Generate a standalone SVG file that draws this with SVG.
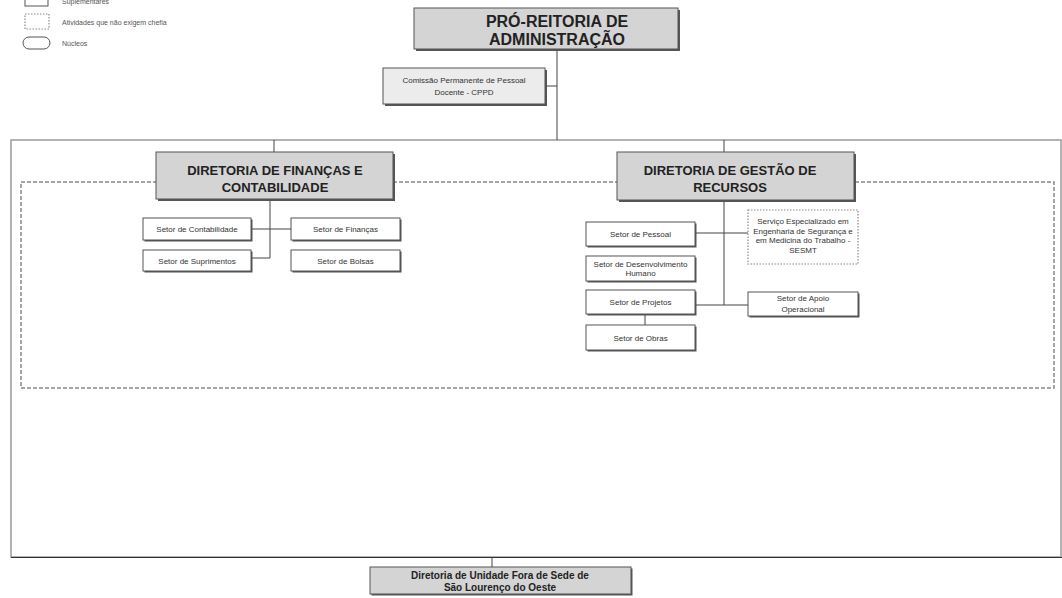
<svg xmlns="http://www.w3.org/2000/svg" width="1062" height="598" viewBox="0 0 1062 598">
<style>
text{font-family:"Liberation Sans",Arial,sans-serif;}
.t{font-size:8px;fill:#333;text-anchor:middle;}
.lg{font-size:7px;fill:#555;}
.h1{font-size:16px;font-weight:bold;fill:#222;text-anchor:middle;}
.h2{font-size:13px;font-weight:bold;fill:#222;text-anchor:middle;}
.h3{font-size:10px;font-weight:bold;fill:#222;text-anchor:middle;}
.sh{fill:#555;}
.box{fill:#fff;stroke:#555;stroke-width:1;}
.gbox{fill:#d4d4d4;stroke:#555;stroke-width:1;}
.lbox{fill:#ececec;stroke:#555;stroke-width:1;}
.dot{fill:#fff;stroke:#888;stroke-width:1.2;stroke-dasharray:1.5,1.5;}
.ln{stroke:#444;stroke-width:1;fill:none;}
</style>
<rect width="1062" height="598" fill="#fff"/>
<g id="legend">
<rect x="25" y="-6" width="23" height="12" class="box"/>
<text x="62" y="4" class="lg">Suplementares</text>
<rect x="25" y="14" width="24" height="15" class="dot"/>
<text x="62" y="25" class="lg">Atividades que não exigem chefia</text>
<rect x="23" y="37" width="27" height="12" rx="6" ry="6" class="box"/>
<text x="62" y="46" class="lg">Núcleos</text>
</g>
<g id="containers">
<rect x="11" y="140" width="1050" height="417" fill="none" stroke="#9a9a9a" stroke-width="1.5"/>
<line x1="11" y1="557.5" x2="1062" y2="557.5" stroke="#333" stroke-width="1.2"/>
<rect x="21" y="182" width="1033" height="206" fill="none" stroke="#888" stroke-width="1.5" stroke-dasharray="4,2"/>
</g>
<g id="connectors">
<line x1="557" y1="50" x2="557" y2="140" class="ln"/>
<line x1="546" y1="86" x2="557" y2="86" class="ln"/>
<line x1="274" y1="140" x2="274" y2="152" class="ln"/>
<line x1="724" y1="140" x2="724" y2="152" class="ln"/>
<line x1="270" y1="199" x2="270" y2="258" class="ln"/>
<line x1="251" y1="229" x2="291" y2="229" class="ln"/>
<line x1="251" y1="258" x2="270" y2="258" class="ln"/>
<line x1="724" y1="200" x2="724" y2="305" class="ln"/>
<line x1="695" y1="233" x2="748" y2="233" class="ln"/>
<line x1="695" y1="305" x2="748" y2="305" class="ln"/>
<line x1="645" y1="315" x2="645" y2="325" class="ln"/>
<line x1="492" y1="557" x2="492" y2="567" class="ln"/>
</g>
<g id="pro-reitoria">
<rect x="416" y="10" width="264" height="41" class="sh"/>
<rect x="414" y="8" width="264" height="41" class="gbox"/>
<text x="557" y="27" class="h1">PRÓ-REITORIA DE</text>
<text x="557" y="45" class="h1">ADMINISTRAÇÃO</text>
</g>
<g id="cppd">
<rect x="385" y="70" width="162" height="36" class="sh"/>
<rect x="383" y="68" width="162" height="36" class="lbox"/>
<text x="464" y="83" class="t">Comissão Permanente de Pessoal</text>
<text x="464" y="95" class="t">Docente - CPPD</text>
</g>
<g id="dir-financas">
<rect x="158" y="154" width="237" height="47" class="sh"/>
<rect x="156" y="152" width="237" height="47" class="gbox"/>
<text x="275" y="175" class="h2">DIRETORIA DE FINANÇAS E</text>
<text x="275" y="192" class="h2">CONTABILIDADE</text>
</g>
<g id="dir-gestao">
<rect x="619" y="154" width="237" height="48" class="sh"/>
<rect x="617" y="152" width="237" height="48" class="gbox"/>
<text x="730" y="175" class="h2">DIRETORIA DE GESTÃO DE</text>
<text x="730" y="192" class="h2">RECURSOS</text>
</g>
<g id="setor-contabilidade">
<rect x="144.5" y="219.5" width="108" height="22" class="sh"/>
<rect x="143" y="218" width="108" height="22" class="box"/>
<text x="197" y="232" class="t">Setor de Contabilidade</text>
</g>
<g id="setor-financas">
<rect x="292.5" y="219.5" width="109" height="22" class="sh"/>
<rect x="291" y="218" width="109" height="22" class="box"/>
<text x="345.5" y="232" class="t">Setor de Finanças</text>
</g>
<g id="setor-suprimentos">
<rect x="144.5" y="251.5" width="108" height="21" class="sh"/>
<rect x="143" y="250" width="108" height="21" class="box"/>
<text x="197" y="263.5" class="t">Setor de Suprimentos</text>
</g>
<g id="setor-bolsas">
<rect x="292.5" y="251.5" width="109" height="21" class="sh"/>
<rect x="291" y="250" width="109" height="21" class="box"/>
<text x="345.5" y="263.5" class="t">Setor de Bolsas</text>
</g>
<g id="setor-pessoal">
<rect x="587.5" y="223.5" width="109" height="24" class="sh"/>
<rect x="586" y="222" width="109" height="24" class="box"/>
<text x="640.5" y="237" class="t">Setor de Pessoal</text>
</g>
<g id="sesmt">
<rect x="748" y="210" width="110" height="54" class="dot"/>
<text x="803" y="224" class="t">Serviço Especializado em</text>
<text x="803" y="233.5" class="t">Engenharia de Segurança e</text>
<text x="803" y="243" class="t">em Medicina do Trabalho -</text>
<text x="803" y="252.5" class="t">SESMT</text>
</g>
<g id="setor-desenvolvimento">
<rect x="587.5" y="257.5" width="109" height="25" class="sh"/>
<rect x="586" y="256" width="109" height="25" class="box"/>
<text x="640.5" y="267" class="t">Setor de Desenvolvimento</text>
<text x="640.5" y="276" class="t">Humano</text>
</g>
<g id="setor-projetos">
<rect x="587.5" y="291.5" width="109" height="24" class="sh"/>
<rect x="586" y="290" width="109" height="24" class="box"/>
<text x="640.5" y="305" class="t">Setor de Projetos</text>
</g>
<g id="setor-apoio">
<rect x="749.5" y="293.5" width="110" height="24" class="sh"/>
<rect x="748" y="292" width="110" height="24" class="box"/>
<text x="803" y="301" class="t">Setor de Apoio</text>
<text x="803" y="312" class="t">Operacional</text>
</g>
<g id="setor-obras">
<rect x="587.5" y="326.5" width="109" height="25" class="sh"/>
<rect x="586" y="325" width="109" height="25" class="box"/>
<text x="640.5" y="340.5" class="t">Setor de Obras</text>
</g>
<g id="dir-sao-lourenco">
<rect x="371.5" y="568.5" width="261" height="27" class="sh"/>
<rect x="370" y="567" width="261" height="27" class="gbox"/>
<text x="500" y="579" class="h3">Diretoria de Unidade Fora de Sede de</text>
<text x="500" y="591" class="h3">São Lourenço do Oeste</text>
</g>
</svg>
